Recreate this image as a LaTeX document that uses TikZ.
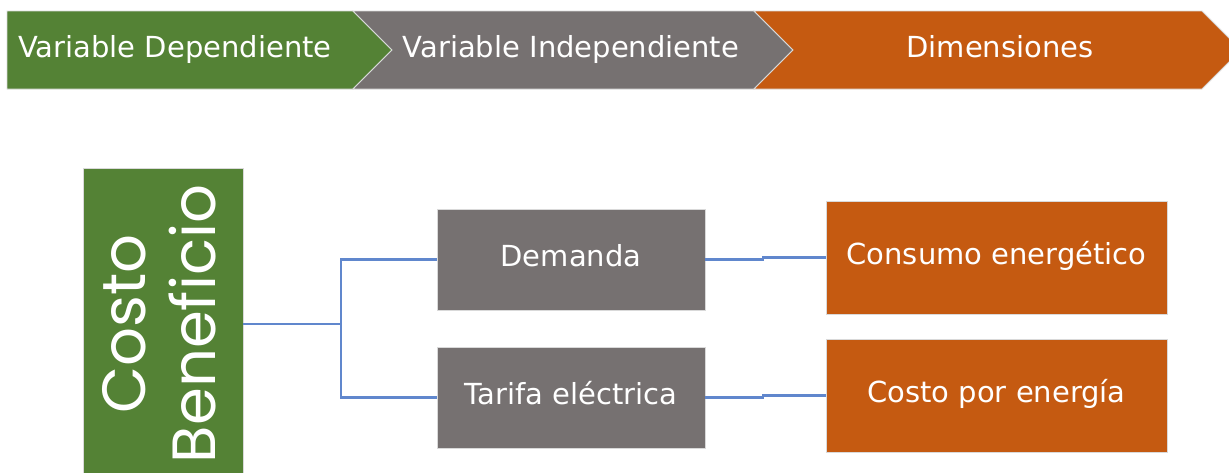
\documentclass[tikz,border=0pt]{standalone}
\usepackage{fontspec}
\setmainfont{DejaVu Sans}
\newfontfamily\cbfont{Poppins}
\usetikzlibrary{calc}
\definecolor{cgreen}{HTML}{548235}
\definecolor{cgray}{HTML}{767171}
\definecolor{corange}{HTML}{C55A11}
\definecolor{cblue}{HTML}{4472C4}
\begin{document}
\begin{tikzpicture}[x=1pt,y=-1pt,
  chev/.style={draw=white!85!black,line width=0.8pt},
  lbl/.style={text=white,font=\fontsize{29}{34}\selectfont,inner sep=0pt,text height=21pt,text depth=7pt},
  box/.style={draw=white!85!black,line width=0.6pt,text=white,font=\fontsize{29}{34}\selectfont,inner sep=0pt,text height=21pt,text depth=7pt},
  conn/.style={draw=cblue!85!white,line width=2.2pt}]
\useasboundingbox (0,0) rectangle (1229,472);
\begin{scope}
\clip (0,0) rectangle (1229,472);
% chevrons
\path[chev,fill=cgreen] (7,11) -- (353,11) -- (392,50) -- (353,89) -- (7,89) -- cycle;
\path[chev,fill=cgray] (353,11) -- (754,11) -- (793,50) -- (754,89) -- (353,89) -- (392,50) -- cycle;
\path[chev,fill=corange] (754,11) -- (1202,11) -- (1241,50) -- (1202,89) -- (754,89) -- (793,50) -- cycle;
\node[lbl] (t1) at (175,50) {Variable Dependiente};
\node[lbl] (t2) at (571,50) {Variable Independiente};
\node[lbl] (t3) at (1000,50) {Dimensiones};
% boxes
\node[box,fill=cgreen,minimum width=160pt,minimum height=312pt] (cb) at (163,324) {};
\node[text=white,rotate=90,font=\cbfont\fontsize{61}{70}\selectfont,align=center,inner sep=0pt] (cbt) at (159,324) {Costo\\Beneficio};
\node[box,fill=cgray,minimum width=268pt,minimum height=101pt] (dem) at (571,259.5) {Demanda};
\node[box,fill=cgray,minimum width=268pt,minimum height=101pt] (tar) at (571,397.5) {Tarifa eléctrica};
\node[box,fill=corange,minimum width=341pt,minimum height=113pt] (con) at (996.5,257.5) {Consumo energético};
\node[box,fill=corange,minimum width=341pt,minimum height=113pt] (cpe) at (996.5,395.5) {Costo por energía};
% connectors
\coordinate (j) at (341,324);
\draw[conn] (cb.east) -- (j);
\draw[conn] (j) |- (dem.west);
\draw[conn] (j) |- (tar.west);
\draw[conn] (dem.east) -- ([xshift=58pt]dem.east) |- (con.west);
\draw[conn] (tar.east) -- ([xshift=58pt]tar.east) |- (cpe.west);
\end{scope}
\end{tikzpicture}
\end{document}
